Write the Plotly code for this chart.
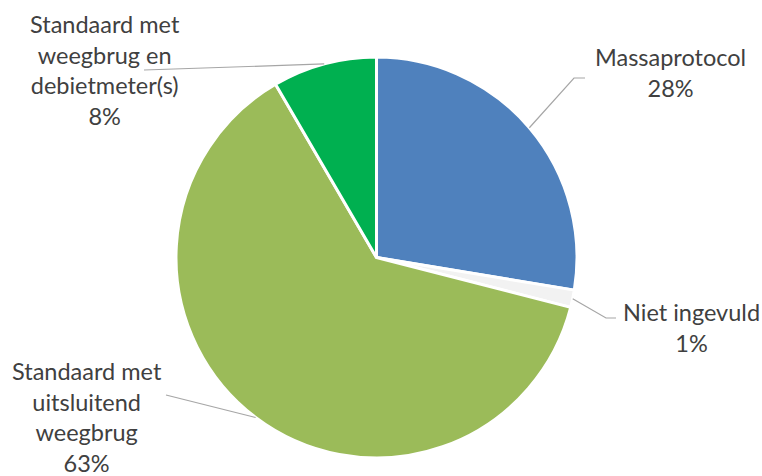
import math
import plotly.graph_objects as go

categories = ["Massaprotocol", "Niet ingevuld", "Standaard met uitsluitend weegbrug",
              "Standaard met weegbrug en debietmeter(s)"]
label_texts = ["Massaprotocol", "Niet ingevuld", "Standaard met<br>uitsluitend<br>weegbrug",
               "Standaard met<br>weegbrug en<br>debietmeter(s)"]
values = [27.6, 1.4, 62.6, 8.4]
colors = ["#4F81BD", "#F2F2F2", "#9BBB59", "#00B050"]

W, H = 762, 476
cx, cy, R = 376.5, 257.5, 200.5

# label placement (pixel centre of the text block, elbow point of leader line)
label_pos = [(670, 72), (691, 327), (87, 417), (105, 70)]
elbows = [[(574, 78), (585, 78)], [(606, 318), (616, 318)], [], []]
line_end = [None, None, (166, 395), (144, 70)]

fig = go.Figure(go.Pie(
    labels=categories, values=values, sort=False, direction="clockwise", rotation=0,
    marker=dict(colors=colors, line=dict(color="white", width=3)),
    textinfo="none", hoverinfo="label+percent", showlegend=False,
    domain=dict(x=[(cx - R) / W, (cx + R) / W], y=[1 - (cy + R) / H, 1 - (cy - R) / H]),
))

def px2paper(x, y):
    return x / W, 1 - y / H

total = sum(values)
cum = 0
for i, v in enumerate(values):
    mid = (cum + v / 2) / total * 2 * math.pi
    cum += v
    sx, sy = cx + R * math.sin(mid), cy - R * math.cos(mid)
    pts = [(sx, sy)] + elbows[i] + ([line_end[i]] if line_end[i] else [])
    path = "M " + " L ".join("%f,%f" % px2paper(x, y) for x, y in pts)
    fig.add_shape(type="path", path=path, xref="paper", yref="paper",
                  line=dict(color="#A6A6A6", width=1.2))
    pct = round(v / total * 100)
    lx, ly = px2paper(*label_pos[i])
    fig.add_annotation(x=lx, y=ly, xref="paper", yref="paper", showarrow=False,
                       text="%s<br>%d%%" % (label_texts[i], pct), align="center",
                       xanchor="center", yanchor="middle",
                       font=dict(family="Lato", size=23.5, color="#404040"))

fig.update_layout(width=W, height=H, margin=dict(l=0, r=0, t=0, b=0),
                  paper_bgcolor="white", plot_bgcolor="white")
fig.write_html("out.html", config={"displayModeBar": False},
               post_script="document.body.style.margin='0';")
